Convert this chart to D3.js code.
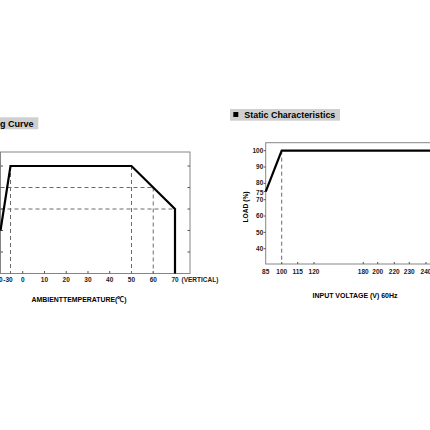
<!DOCTYPE html>
<html>
<head>
<meta charset="utf-8">
<script src="https://cdn.jsdelivr.net/npm/d3@7"></script>
<style>
  html, body { margin: 0; padding: 0; background: #fff; }
  svg { display: block; }
  .frame { fill: none; stroke: #858585; stroke-width: 1; }
  .curve { fill: none; stroke: #000; stroke-width: 2.2; stroke-linejoin: miter; }
  .dash { fill: none; stroke: #6a6a6a; stroke-width: 1; stroke-dasharray: 4 3; }
  .tick { stroke: #555; stroke-width: 1; }
  text { font-family: "Liberation Sans", Arial, sans-serif; fill: #111; }
  .lbl { font-size: 6.5px; font-weight: bold; fill: #222; }
  .ttl { font-size: 9px; font-weight: bold; fill: #000; }
  .axt { font-size: 8px; font-weight: bold; fill: #000; }
</style>
</head>
<body>
<svg id="svg" width="430" height="430"></svg>
<script>
(function () {
  // Derating curve (left, cropped)
  const deratingTicks = [-40, -30, 0, 10, 20, 30, 40, 50, 60, 70];
  const deratingLoadTicks = [0, 20, 40, 60, 80, 100];
  const deratingTemp = [-40, -30, 50, 70, 70];
  const deratingLoad = [40, 100, 100, 60, 0];
  // dashed guides: [x1, y1, x2, y2] in data units
  const deratingGuides = [
    [-30, 100, -30, 0], [50, 100, 50, 0], [60, 80, 60, 0],
    [-40, 80, 60, 80], [-40, 60, 70, 60]
  ];

  // Static characteristics (right, cropped)
  const voltTicks = [85, 100, 115, 120, 180, 200, 220, 230, 240];
  const staticLoadTicks = [40, 50, 60, 70, 75, 80, 90, 100];
  const staticVolt = [85, 100, 264];
  const staticLoad = [75, 100, 100];
  const staticGuides = [[100, 100]];

  const svg = d3.select('#svg');
  svg.append('rect').attr('width', 430).attr('height', 430).attr('fill', '#fff');

  // ---------- left chart ----------
  const xL = d3.scaleLinear().domain([-40, -30, 0, 70]).range([0.5, 10.5, 22.7, 175]);
  const yL = d3.scaleLinear().domain([0, 100]).range([273.5, 166]);
  const gL = svg.append('g');
  const fL = { x0: 0.5, x1: 190, y0: 152, y1: 273.5 };

  gL.append('rect').attr('class', 'frame')
    .attr('x', fL.x0).attr('y', fL.y0).attr('width', fL.x1 - fL.x0).attr('height', fL.y1 - fL.y0);

  // inward ticks
  gL.selectAll('line.xt').data(deratingTicks.slice(1)).join('line').attr('class', 'tick')
    .attr('x1', d => xL(d)).attr('x2', d => xL(d)).attr('y1', fL.y1).attr('y2', fL.y1 - 2.5);
  gL.selectAll('line.yt').data(deratingLoadTicks.slice(1)).join('line').attr('class', 'tick')
    .attr('x1', fL.x0).attr('x2', fL.x0 + 2.5).attr('y1', d => yL(d)).attr('y2', d => yL(d));
  gL.selectAll('line.yt2').data(deratingLoadTicks.slice(1)).join('line').attr('class', 'tick')
    .attr('x1', fL.x1).attr('x2', fL.x1 - 2.5).attr('y1', d => yL(d)).attr('y2', d => yL(d));

  gL.selectAll('text.xl').data(deratingTicks).join('text').attr('class', 'lbl')
    .attr('x', d => xL(d) - (d < 0 ? 2.5 : 0)).attr('y', 281.7).attr('text-anchor', 'middle')
    .text(d => d);
  gL.append('text').attr('class', 'lbl').attr('x', 181.5).attr('y', 281.7).text('(VERTICAL)');

  gL.selectAll('line.g').data(deratingGuides).join('line').attr('class', 'dash')
    .attr('x1', d => xL(d[0])).attr('y1', d => yL(d[1]))
    .attr('x2', d => xL(d[2])).attr('y2', d => yL(d[3]));

  const lineL = d3.line().x(d => xL(d[0])).y(d => yL(d[1]));
  gL.append('path').attr('class', 'curve')
    .attr('d', lineL(d3.zip(deratingTemp, deratingLoad)));

  gL.append('text').attr('class', 'axt').attr('x', 79).attr('y', 301.5).attr('text-anchor', 'middle')
    .attr('textLength', 95).attr('lengthAdjust', 'spacingAndGlyphs')
    .text('AMBIENTTEMPERATURE(℃)');

  // title
  gL.append('rect').attr('x', -80).attr('y', 117.3).attr('width', 118.3).attr('height', 12).attr('fill', '#cfcfcf');
  gL.append('text').attr('class', 'ttl').attr('x', 33.5).attr('y', 126.7).attr('text-anchor', 'end')
    .text('■ Derating Curve');

  // ---------- right chart ----------
  const xR = d3.scaleLinear().domain(voltTicks)
    .range([265.7, 281.7, 297.7, 314, 363.3, 377.7, 394.3, 409.3, 426]);
  const yR = d3.scaleLinear().domain([40, 100]).range([248.7, 150.7]);
  const gR = svg.append('g');
  const fR = { x0: 265.7, x1: 460, y0: 142.7, y1: 264 };

  gR.append('rect').attr('class', 'frame')
    .attr('x', fR.x0).attr('y', fR.y0).attr('width', fR.x1 - fR.x0).attr('height', fR.y1 - fR.y0);

  gR.selectAll('line.xt').data(voltTicks.slice(1)).join('line').attr('class', 'tick')
    .attr('x1', d => xR(d)).attr('x2', d => xR(d)).attr('y1', fR.y1).attr('y2', fR.y1 - 2);
  gR.selectAll('line.yt').data(staticLoadTicks).join('line').attr('class', 'tick')
    .attr('x1', fR.x0).attr('x2', fR.x0 - 2).attr('y1', d => yR(d)).attr('y2', d => yR(d));

  gR.selectAll('text.xl').data(voltTicks).join('text').attr('class', 'lbl')
    .attr('x', d => xR(d)).attr('y', 273.5).attr('text-anchor', 'middle').text(d => d);
  gR.selectAll('text.yl').data(staticLoadTicks).join('text').attr('class', 'lbl')
    .attr('x', 263.3).attr('y', d => yR(d) + (d === 80 ? -1 : d === 75 ? 1.5 : 0))
    .attr('dy', '0.35em').attr('text-anchor', 'end').text(d => d);

  gR.selectAll('line.g').data(staticGuides).join('line').attr('class', 'dash')
    .attr('x1', d => xR(d[0])).attr('y1', d => yR(d[1]))
    .attr('x2', d => xR(d[0])).attr('y2', fR.y1);

  const lineR = d3.line().x(d => xR(d[0])).y(d => yR(d[1]));
  gR.append('path').attr('class', 'curve')
    .attr('d', lineR(d3.zip(staticVolt, staticLoad)));

  gR.append('text').attr('class', 'axt').attr('transform', 'translate(248,207) rotate(-90)')
    .attr('text-anchor', 'middle').attr('textLength', 31).attr('lengthAdjust', 'spacingAndGlyphs')
    .text('LOAD (%)');
  gR.append('text').attr('class', 'axt').attr('x', 355).attr('y', 298).attr('text-anchor', 'middle')
    .attr('textLength', 85).attr('lengthAdjust', 'spacingAndGlyphs')
    .text('INPUT VOLTAGE (V) 60Hz');

  gR.append('rect').attr('x', 230).attr('y', 109).attr('width', 110).attr('height', 11.7).attr('fill', '#cfcfcf');
  gR.append('rect').attr('x', 233.3).attr('y', 112).attr('width', 5).attr('height', 5).attr('fill', '#000');
  gR.append('text').attr('class', 'ttl').attr('x', 244.3).attr('y', 118.3)
    .attr('textLength', 91).attr('lengthAdjust', 'spacingAndGlyphs')
    .text('Static Characteristics');
})();
</script>
</body>
</html>
